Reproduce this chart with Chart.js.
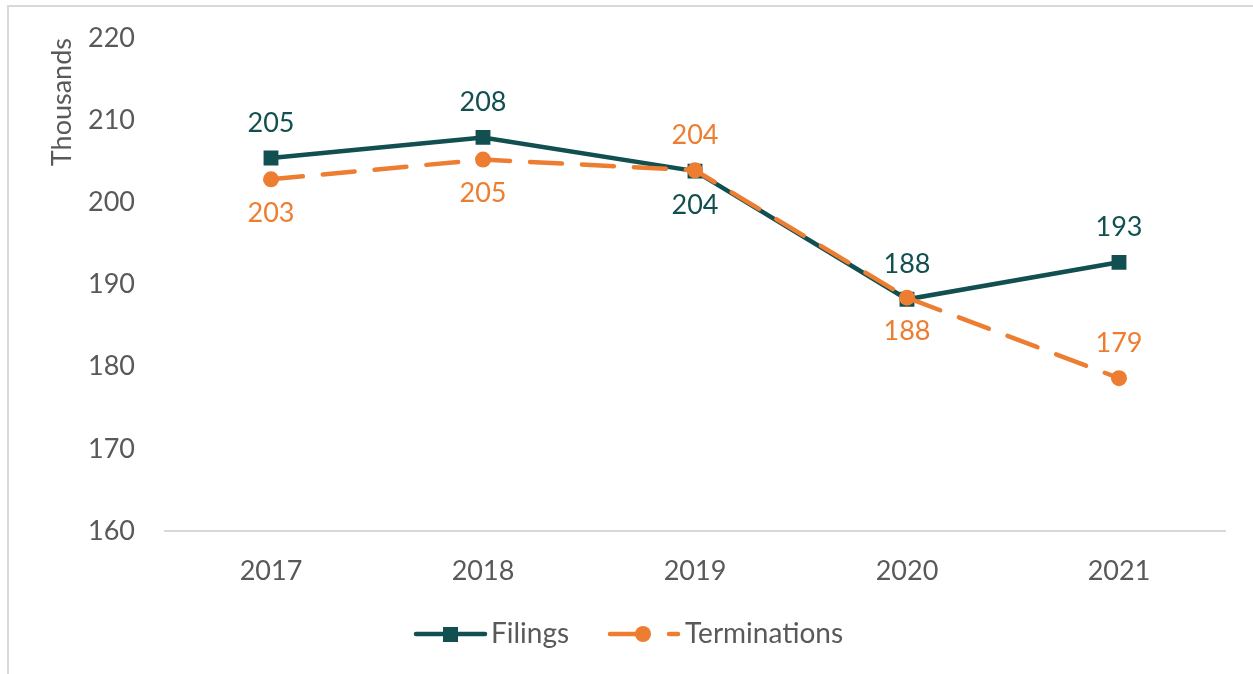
<!DOCTYPE html>
<html>
<head>
<meta charset="utf-8">
<script src="https://cdn.jsdelivr.net/npm/chart.js@4/dist/chart.umd.min.js"></script>
<style>
  html, body { margin: 0; padding: 0; background: #fff; }
  #wrap { position: relative; width: 1253px; height: 674px; overflow: hidden; }
  #frame { position: absolute; left: 7px; top: 5px; width: 1300px; height: 700px;
           border-left: 2px solid #d9d9d9; border-top: 2px solid #d9d9d9; }
  #c { position: absolute; left: 0; top: 0; }
</style>
</head>
<body>
<div id="wrap">
  <div id="frame"></div>
  <canvas id="c" width="1253" height="674"></canvas>
</div>
<script>
const years = ['2017', '2018', '2019', '2020', '2021'];
const filings = [205.4, 207.9, 203.8, 188.2, 192.7];
const terminations = [202.8, 205.2, 203.9, 188.4, 178.6];
// where each value label sits
const filingsLabelPos = ['above', 'above', 'below', 'above', 'above'];
const terminationsLabelPos = ['below', 'below', 'above', 'below', 'above'];

const tealColor = '#124F50';
const orangeColor = '#ED7D31';
const textColor = '#595959';
const fontFamily = 'Lato, "Open Sans", sans-serif';

const valueLabels = {
    id: 'valueLabels',
    afterDatasetsDraw(chart) {
        const ctx = chart.ctx;
        const posLists = { Filings: filingsLabelPos, Terminations: terminationsLabelPos };
        ctx.save();
        ctx.font = '27px ' + fontFamily;
        ctx.textAlign = 'center';
        ctx.textBaseline = 'middle';
        chart.data.datasets.forEach((ds, i) => {
            const meta = chart.getDatasetMeta(i);
            const pos = posLists[ds.label];
            ctx.fillStyle = ds.borderColor;
            meta.data.forEach((pt, j) => {
                let dy = pos[j] === 'above' ? -35 : 34;
                ctx.fillText(Math.round(ds.data[j]), pt.x, pt.y + dy);
            });
        });
        ctx.restore();
    }
};

const customLegend = {
    id: 'customLegend',
    afterDraw(chart) {
        const ctx = chart.ctx;
        const y = 634;
        ctx.save();
        ctx.lineCap = 'round';
        ctx.lineWidth = 4.5;

        // Filings
        ctx.strokeStyle = tealColor;
        ctx.beginPath(); ctx.moveTo(416, y); ctx.lineTo(485, y); ctx.stroke();
        ctx.fillStyle = tealColor;
        ctx.fillRect(443, y - 7, 15, 15);

        // Terminations
        ctx.strokeStyle = orangeColor;
        ctx.beginPath(); ctx.moveTo(610, y); ctx.lineTo(645, y); ctx.stroke();
        ctx.beginPath(); ctx.moveTo(669, y); ctx.lineTo(678, y); ctx.stroke();
        ctx.fillStyle = orangeColor;
        ctx.beginPath(); ctx.arc(643, y, 8, 0, Math.PI * 2); ctx.fill();

        ctx.fillStyle = textColor;
        ctx.font = '28px ' + fontFamily;
        ctx.textBaseline = 'middle';
        ctx.textAlign = 'left';
        ctx.fillText('Filings', 491, y);
        ctx.fillText('Terminations', 685, y);
        ctx.restore();
    }
};

new Chart(document.getElementById('c'), {
    type: 'line',
    data: {
        labels: years,
        datasets: [
            {
                label: 'Terminations',
                data: terminations,
                borderColor: orangeColor,
                backgroundColor: orangeColor,
                borderWidth: 4.5,
                borderDash: [32, 20],
                borderCapStyle: 'round',
                pointStyle: 'circle',
                pointRadius: 8,
                pointHoverRadius: 8,
                pointBorderWidth: 0,
                tension: 0
            },
            {
                label: 'Filings',
                data: filings,
                borderColor: tealColor,
                backgroundColor: tealColor,
                borderWidth: 4.5,
                pointStyle: 'rect',
                pointRadius: 10.5,
                pointHoverRadius: 10.5,
                pointBorderWidth: 0,
                tension: 0
            }
        ]
    },
    options: {
        responsive: false,
        animation: false,
        events: [],
        layout: { padding: { left: 40, top: 38, right: 28, bottom: 73 } },
        plugins: {
            legend: { display: false },
            tooltip: { enabled: false }
        },
        scales: {
            x: {
                offset: true,
                grid: { display: false, drawTicks: false },
                border: { display: true, color: '#d9d9d9', width: 2 },
                ticks: { color: textColor, font: { family: fontFamily, size: 27 }, padding: 24 },
                afterFit(scale) { scale.height = 70; }
            },
            y: {
                min: 160,
                max: 220,
                grid: { display: false, drawTicks: false },
                border: { display: false },
                ticks: { stepSize: 10, color: textColor, font: { family: fontFamily, size: 27 }, padding: 30 },
                title: {
                    display: true,
                    text: 'Thousands',
                    align: 'end',
                    color: textColor,
                    font: { family: fontFamily, size: 27 },
                    padding: { top: 6, bottom: 0 }
                },
                afterFit(scale) {
                    scale.width = 125;
                    // tick padding should not push the plot area down
                    scale.paddingTop = 0;
                    scale.paddingBottom = 0;
                }
            }
        }
    },
    plugins: [valueLabels, customLegend]
});
</script>
</body>
</html>
